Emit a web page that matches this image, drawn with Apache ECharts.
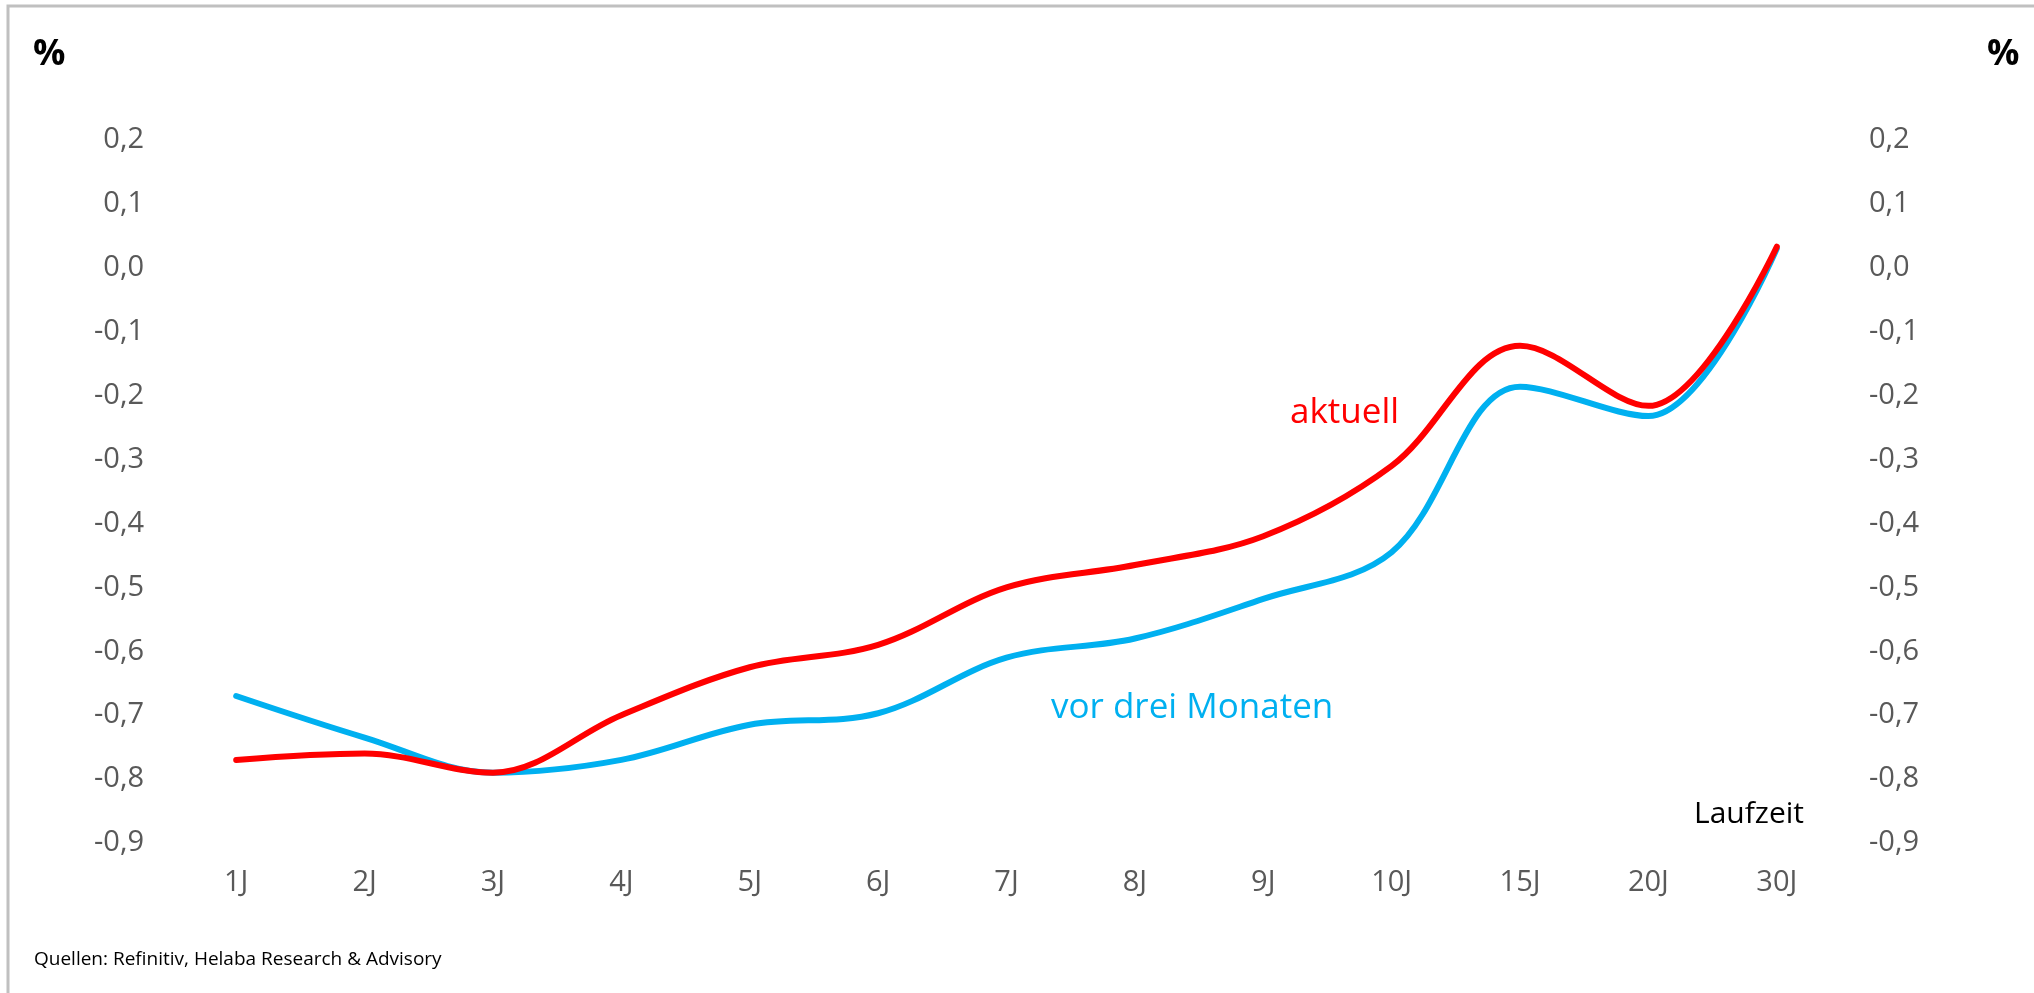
<!DOCTYPE html>
<html>
<head>
<meta charset="utf-8">
<script src="https://cdn.jsdelivr.net/npm/echarts@6/dist/echarts.min.js"></script>
<style>
html,body{margin:0;padding:0;background:#fff;}
#c{width:2034px;height:993px;}
</style>
</head>
<body>
<div id="c"></div>
<script>
const categories = ['1J','2J','3J','4J','5J','6J','7J','8J','9J','10J','15J','20J','30J'];
const aktuell = [-0.77,-0.76,-0.79,-0.70,-0.625,-0.59,-0.50,-0.465,-0.42,-0.31,-0.122,-0.216,0.033];
const vorDreiMonaten = [-0.67,-0.735,-0.79,-0.77,-0.715,-0.697,-0.61,-0.58,-0.518,-0.445,-0.186,-0.232,0.03];
const yTicks = {min:-0.9, max:0.2, interval:0.1};

const font = 'Open Sans';
const gray = '#595959';
const fmt = v => (Math.round(v*10)/10).toFixed(1).replace('.', ',').replace('-0,0','0,0');

const chart = echarts.init(document.getElementById('c'));
chart.setOption({
  backgroundColor:'#fff',
  animation:false,
  grid:{left:172, right:193, top:140, bottom:150},
  xAxis:{
    type:'category', data:categories, boundaryGap:true,
    axisLine:{show:false}, axisTick:{show:false}, splitLine:{show:false},
    axisLabel:{color:gray, fontFamily:font, fontSize:29, margin:25}
  },
  yAxis:[
    {type:'value', min:yTicks.min, max:yTicks.max, interval:yTicks.interval, position:'left',
     axisLine:{show:false}, axisTick:{show:false}, splitLine:{show:false},
     axisLabel:{color:gray, fontFamily:font, fontSize:29, margin:28, formatter:fmt}},
    {type:'value', min:yTicks.min, max:yTicks.max, interval:yTicks.interval, position:'right',
     axisLine:{show:false}, axisTick:{show:false}, splitLine:{show:false},
     axisLabel:{color:gray, fontFamily:font, fontSize:29, margin:28, formatter:fmt}}
  ],
  series:[
    {name:'vor drei Monaten', type:'line', data:vorDreiMonaten, smooth:0.35, symbol:'none',
     lineStyle:{color:'#00B0F0', width:6, cap:'round'}},
    {name:'aktuell', type:'line', data:aktuell, smooth:0.35, symbol:'none',
     lineStyle:{color:'#FF0000', width:6, cap:'round'}}
  ],
  graphic:[
    {type:'rect', shape:{x:8, y:6, width:2100, height:1100}, style:{fill:'none', stroke:'#C0C0C0', lineWidth:3}, silent:true},
    {type:'text', left:33, top:37, style:{text:'%', font:'bold 36px "Open Sans"', fill:'#000'}},
    {type:'text', left:1987, top:37, style:{text:'%', font:'bold 36px "Open Sans"', fill:'#000'}},
    {type:'text', left:1290, top:396, style:{text:'aktuell', font:'35px "Open Sans"', fill:'#FF0000'}},
    {type:'text', left:1051, top:691, style:{text:'vor drei Monaten', font:'35px "Open Sans"', fill:'#00B0F0'}},
    {type:'text', left:1694, top:799, style:{text:'Laufzeit', font:'30px "Open Sans"', fill:'#000'}},
    {type:'text', left:34, top:950, style:{text:'Quellen: Refinitiv, Helaba Research & Advisory', font:'19px "Open Sans"', fill:'#000'}}
  ]
});
</script>
</body>
</html>
